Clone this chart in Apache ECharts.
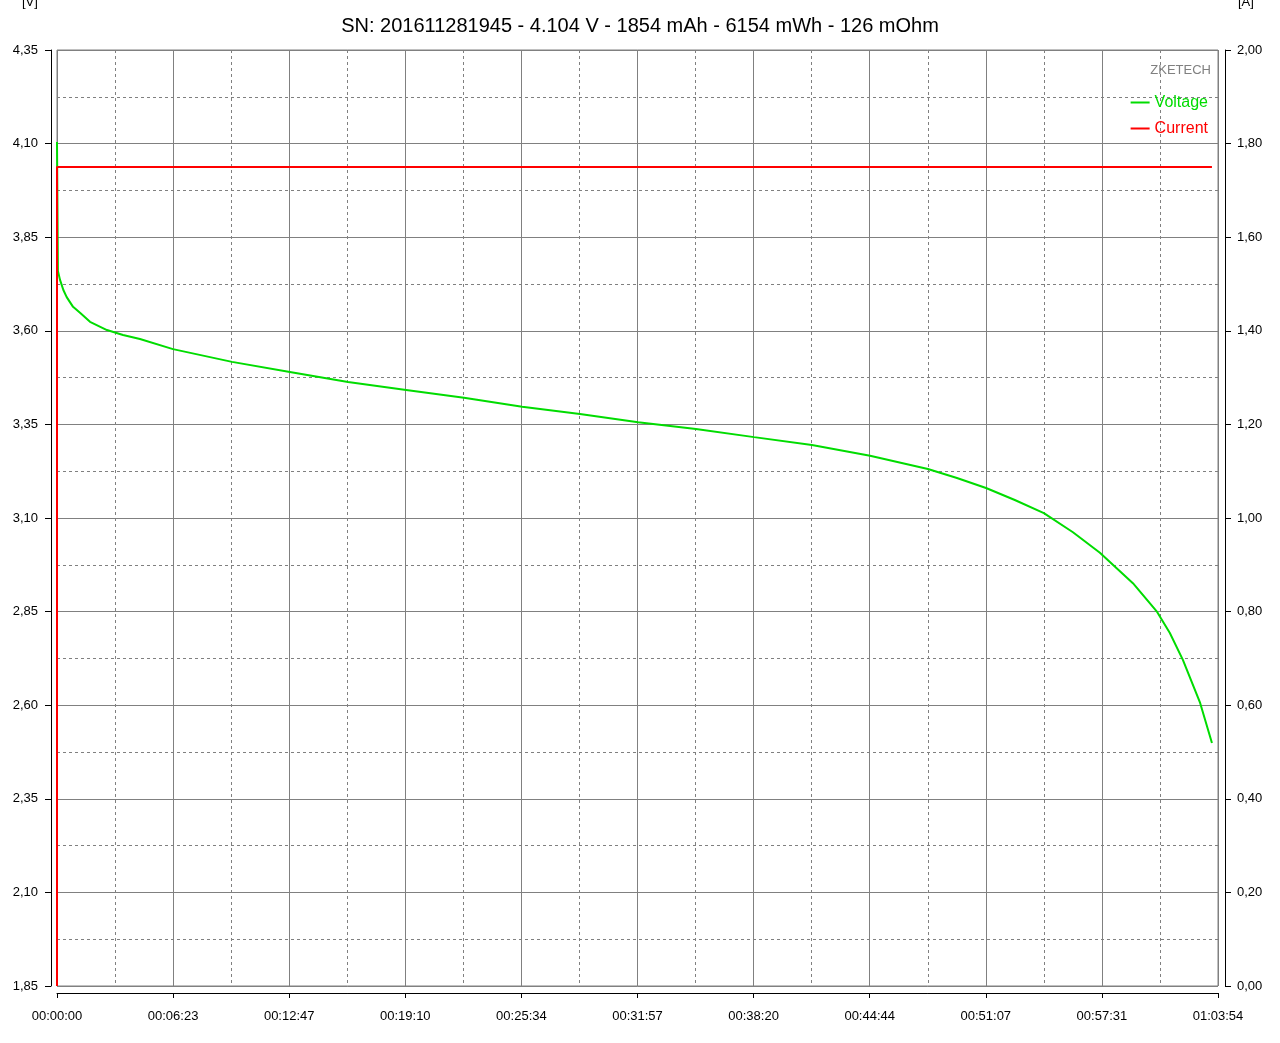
<!DOCTYPE html>
<html>
<head>
<meta charset="utf-8">
<script src="https://cdn.jsdelivr.net/npm/echarts@6/dist/echarts.min.js"></script>
<style>
  html, body { margin: 0; padding: 0; background: #ffffff; }
  #chart { width: 1280px; height: 1043px; }
</style>
</head>
<body>
<div id="chart"></div>
<script>
// ---- data ----
const titleText = 'SN: 201611281945 - 4.104 V - 1854 mAh - 6154 mWh - 126 mOhm';
const timeSec = [0, 3, 10, 21, 32, 53, 76, 109, 165, 218, 274, 383, 578, 769, 961, 1153, 1344, 1536, 1727, 1919,
                 2110, 2302, 2493, 2685, 2876, 2972, 3068, 3163, 3259, 3355, 3444, 3553, 3633, 3675, 3718, 3775, 3814];
const voltage = [4.104, 3.760, 3.736, 3.709, 3.690, 3.664, 3.648, 3.624, 3.602, 3.589, 3.578, 3.551, 3.517, 3.490, 3.463, 3.442, 3.421, 3.397, 3.378, 3.356,
                 3.338, 3.316, 3.295, 3.266, 3.231, 3.207, 3.180, 3.148, 3.113, 3.062, 3.007, 2.926, 2.849, 2.793, 2.721, 2.606, 2.499];
const currentTime = [0, 0, 3814];
const currentValue = [0, 1.75, 1.75];
const xTickLabels = ['00:00:00', '00:06:23', '00:12:47', '00:19:10', '00:25:34', '00:31:57',
                     '00:38:20', '00:44:44', '00:51:07', '00:57:31', '01:03:54'];
const xMax = 3834;
const xInterval = 383.4;
const vMin = 1.85, vMax = 4.35, vInterval = 0.25;
const aMin = 0, aMax = 2, aInterval = 0.2;

const voltPairs = timeSec.map((t, i) => [t, voltage[i]]);
const currPairs = currentTime.map((t, i) => [t, currentValue[i]]);

const GREEN = '#00dc00';
const RED = '#ff0000';
const GRID = '#808080';
const FONT = '"Liberation Sans", Arial, sans-serif';
const comma = v => v.toFixed(2).replace('.', ',');

const chart = echarts.init(document.getElementById('chart'), null, { renderer: 'canvas' });
chart.setOption({
  animation: false,
  backgroundColor: '#ffffff',
  textStyle: { fontFamily: FONT },
  title: {
    text: titleText,
    left: 'center',
    top: 11,
    textStyle: { fontSize: 20, fontWeight: 'normal', color: '#000', fontFamily: FONT }
  },
  grid: {
    left: 57, right: 62, top: 50, bottom: 57,
    show: true, borderColor: GRID, borderWidth: 1, backgroundColor: '#ffffff'
  },
  legend: {
    data: [
      { name: 'Voltage', itemStyle: { color: GREEN } },
      { name: 'Current', itemStyle: { color: RED } }
    ],
    orient: 'vertical',
    right: 67,
    top: 88,
    align: 'left',
    icon: 'rect',
    itemWidth: 19,
    itemHeight: 2,
    itemGap: 7,
    textStyle: {
      fontSize: 16, fontFamily: FONT, lineHeight: 19,
      rich: {
        g: { color: GREEN, fontSize: 16, fontFamily: FONT },
        r: { color: RED, fontSize: 16, fontFamily: FONT }
      }
    },
    formatter: name => '{' + (name === 'Voltage' ? 'g' : 'r') + '|' + name + '}',
    selectedMode: false
  },
  graphic: [
    { type: 'text', left: 22, top: -4, style: { text: '[V]', fontSize: 13, fill: '#000', fontFamily: FONT } },
    { type: 'text', left: 1238, top: -4, style: { text: '[A]', fontSize: 13, fill: '#000', fontFamily: FONT } },
    { type: 'text', right: 69, top: 64, style: { text: 'ZKETECH', fontSize: 13, fill: '#808080', fontFamily: FONT } }
  ],
  xAxis: {
    type: 'value',
    min: 0, max: xMax, interval: xInterval,
    offset: 7,
    axisLine: { show: true, onZero: false, lineStyle: { color: '#000', width: 1 } },
    axisTick: { show: true, length: 5, lineStyle: { color: '#000' } },
    minorTick: { show: false, splitNumber: 2 },
    axisLabel: {
      color: '#000', fontSize: 13, fontFamily: FONT, margin: 17,
      formatter: v => xTickLabels[Math.round(v / xInterval)]
    },
    splitLine: { show: true, lineStyle: { color: GRID, width: 1 } },
    minorSplitLine: { show: true, lineStyle: { color: GRID, width: 1, type: [3, 3] } }
  },
  yAxis: [
    {
      type: 'value',
      min: vMin, max: vMax, interval: vInterval,
      position: 'left',
      offset: 6,
      axisLine: { show: true, onZero: false, lineStyle: { color: '#000', width: 1 } },
      axisTick: { show: true, length: 6, lineStyle: { color: '#000' } },
      minorTick: { show: false, splitNumber: 2 },
      axisLabel: { color: '#000', fontSize: 13, fontFamily: FONT, margin: 13, formatter: comma },
      splitLine: { show: true, lineStyle: { color: GRID, width: 1 } },
      minorSplitLine: { show: true, lineStyle: { color: GRID, width: 1, type: [3, 3] } }
    },
    {
      type: 'value',
      min: aMin, max: aMax, interval: aInterval,
      position: 'right',
      offset: 7,
      axisLine: { show: true, onZero: false, lineStyle: { color: '#000', width: 1 } },
      axisTick: { show: true, length: 6, lineStyle: { color: '#000' } },
      axisLabel: { color: '#000', fontSize: 13, fontFamily: FONT, margin: 12, formatter: comma },
      splitLine: { show: false }
    }
  ],
  series: [
    {
      name: 'Voltage',
      type: 'line',
      yAxisIndex: 0,
      data: voltPairs,
      showSymbol: false,
      smooth: false,
      color: GREEN,
      lineStyle: { color: GREEN, width: 2 },
      z: 3
    },
    {
      name: 'Current',
      type: 'line',
      yAxisIndex: 1,
      data: currPairs,
      showSymbol: false,
      color: RED,
      lineStyle: { color: RED, width: 2 },
      z: 4
    }
  ]
});
</script>
</body>
</html>
